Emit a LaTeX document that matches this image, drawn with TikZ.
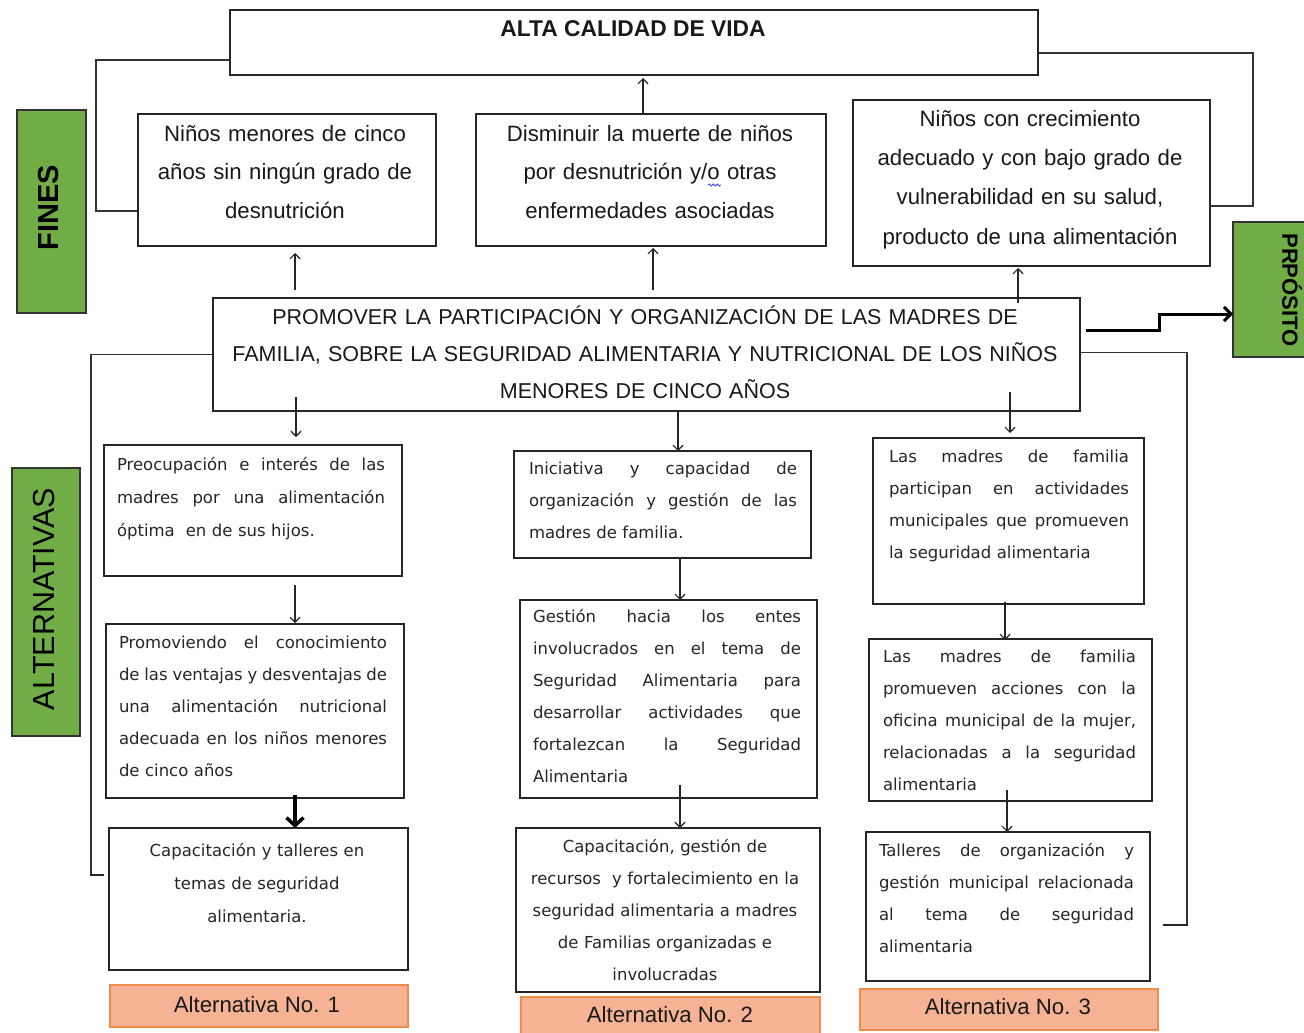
\documentclass[tikz,border=0pt]{standalone}
\usepackage{fontspec}
\setmainfont{Liberation Sans}
\newfontfamily\altf{DejaVu Sans}
\usetikzlibrary{arrows.meta,decorations.pathmorphing}
\definecolor{grn}{HTML}{70AD47}
\definecolor{salmon}{HTML}{F5B295}
\definecolor{orng}{HTML}{F08C4B}
\newcommand{\jl}[2]{\leavevmode\hbox to #1{\spaceskip=0pt\xspaceskip=0pt #2}}
\begin{document}
\begin{tikzpicture}[x=1pt,y=-1pt,
 box/.style={draw=black!85, line width=1.3pt, inner sep=0pt, outer sep=0pt, fill=white},
 gbox/.style={draw=black!80, line width=1.2pt, fill=grn, inner sep=0pt, outer sep=0pt},
 abox/.style={draw=orng, line width=1.2pt, fill=salmon, inner sep=0pt, outer sep=0pt},
 uptxt/.style={inner sep=0pt, anchor=north, align=center, font=\fontsize{22.2}{38.5}\selectfont, text=black!90},
 alttxt/.style={inner sep=0pt, anchor=north, align=left, font=\altf\fontsize{16.5}{32}\selectfont, text=black!85},
 lbltxt/.style={inner sep=0pt, anchor=base, font=\fontsize{22.2}{25}\selectfont, text=black!90},
 arr/.style={draw=black!85, line width=1.2pt, -{Straight Barb[length=5pt,width=10pt]}},
 conn/.style={draw=black!80, line width=1.3pt},
]
\fill[white] (0,0) rectangle (1304,1033);
\useasboundingbox (0,0) rectangle (1304,1033);

% ---------- top ----------
\node[box, minimum width=808pt, minimum height=65pt] (alta) at (634,42.5) {};
\node[inner sep=0pt, anchor=base, font=\bfseries\fontsize{22.8}{26}\selectfont, text=black!90] (altat) at (633,37) {ALTA CALIDAD DE VIDA};

\node[gbox, minimum width=69pt, minimum height=203pt] (fines) at (51.5,211.5) {};
\node[rotate=90, inner sep=0pt, font=\bfseries\fontsize{29}{30}\selectfont] (finest) at (49,208) {FINES};

\node[box, minimum width=298pt, minimum height=132pt] (f1) at (287,180) {};
\node[uptxt, text width=298pt] (f1t) at (285,114.05) {\strut Niños menores de cinco\\años sin ningún grado de\\desnutrición};

\node[box, minimum width=350pt, minimum height=132pt] (f2) at (651,180) {};
\node[uptxt, text width=350pt] (f2t) at (650,114.05) {\strut Disminuir la muerte de niños\\por desnutrición y/o otras\\enfermedades asociadas};
\draw[blue!75, line width=0.8pt, decorate, decoration={snake, amplitude=1pt, segment length=4pt}] (708,185) -- (721,185);

\node[box, minimum width=357pt, minimum height=166pt] (f3) at (1031.5,183) {};
\node[uptxt, text width=357pt, font=\fontsize{22.2}{39.3}\selectfont] (f3t) at (1030,98.5) {\strut Niños con crecimiento\\adecuado y con bajo grado de\\vulnerabilidad en su salud,\\producto de una alimentación};

\node[gbox, minimum width=117pt, minimum height=135pt] (prp) at (1291.5,289.5) {};
\node[rotate=-90, inner sep=0pt, font=\bfseries\fontsize{22}{24}\selectfont] (prpt) at (1292,290) {PRPÓSITO};

\node[box, minimum width=867pt, minimum height=113pt] (pp) at (646.5,354.5) {};
\node[uptxt, text width=867pt, font=\fontsize{21.5}{37}\selectfont] (ppt) at (645,298.1) {\strut PROMOVER LA PARTICIPACIÓN Y ORGANIZACIÓN DE LAS MADRES DE\\FAMILIA, SOBRE LA SEGURIDAD ALIMENTARIA Y NUTRICIONAL DE LOS NIÑOS\\MENORES DE CINCO AÑOS};

% ---------- alternatives ----------
\node[gbox, minimum width=68pt, minimum height=268pt] (alts) at (46,602) {};
\node[rotate=90, inner sep=0pt, font=\fontsize{30.5}{32}\selectfont] (altst) at (44,599) {ALTERNATIVAS};

\node[box, minimum width=298pt, minimum height=131pt] (a11) at (253,510.5) {};
\node[alttxt, text width=268pt, font=\altf\fontsize{16.5}{33}\selectfont] (a11t) at (251,446.9) {\strut\jl{268pt}{Preocupación e interés de las}\\ \jl{268pt}{madres por una alimentación}\\ óptima\ \ en de sus hijos.};

\node[box, minimum width=298pt, minimum height=174pt] (a12) at (255,711) {};
\node[alttxt, text width=268pt] (a12t) at (253,625.6) {\strut\jl{268pt}{Promoviendo el conocimiento}\\ \jl{268pt}{de las ventajas y desventajas de}\\ \jl{268pt}{una alimentación nutricional}\\ \jl{268pt}{adecuada en los niños menores}\\ de cinco años};

\node[box, minimum width=299pt, minimum height=142pt] (a13) at (258.5,899) {};
\node[alttxt, align=center, text width=299pt, font=\altf\fontsize{16.5}{33}\selectfont] (a13t) at (257,832.9) {\strut Capacitación y talleres en\\temas de seguridad\\alimentaria.};

\node[abox, minimum width=298pt, minimum height=42pt] (alt1) at (259,1006) {};
\node[lbltxt] (alt1t) at (257,1012) {Alternativa No. 1};

\node[box, minimum width=297pt, minimum height=107pt] (a21) at (662.5,504.5) {};
\node[alttxt, text width=268pt] (a21t) at (663,451.6) {\strut\jl{268pt}{Iniciativa y capacidad de}\\ \jl{268pt}{organización y gestión de las}\\ madres de familia.};

\node[box, minimum width=297pt, minimum height=198pt] (a22) at (668.5,699) {};
\node[alttxt, text width=268pt] (a22t) at (667,599.6) {\strut\jl{268pt}{Gestión hacia los entes}\\ \jl{268pt}{involucrados en el tema de}\\ \jl{268pt}{Seguridad Alimentaria para}\\ \jl{268pt}{desarrollar actividades que}\\ \jl{268pt}{fortalezcan la Seguridad}\\ Alimentaria};

\node[box, minimum width=304pt, minimum height=164pt] (a23) at (668,910) {};
\node[alttxt, align=center, text width=304pt] (a23t) at (665,829.6) {\strut Capacitación, gestión de\\recursos\ \ y fortalecimiento en la\\seguridad alimentaria a madres\\de Familias organizadas e\\involucradas};

\node[abox, minimum width=299pt, minimum height=48pt] (alt2) at (670.5,1021) {};
\node[lbltxt] (alt2t) at (670,1022) {Alternativa No. 2};

\node[box, minimum width=271pt, minimum height=166pt] (a31) at (1008.5,521) {};
\node[alttxt, text width=240pt] (a31t) at (1009,439.6) {\strut\jl{240pt}{Las madres de familia}\\ \jl{240pt}{participan en actividades}\\ \jl{240pt}{municipales que promueven}\\ la seguridad alimentaria};

\node[box, minimum width=283pt, minimum height=162pt] (a32) at (1010.5,720) {};
\node[alttxt, text width=253pt] (a32t) at (1009.5,639.6) {\strut\jl{253pt}{Las madres de familia}\\ \jl{253pt}{promueven acciones con la}\\ \jl{253pt}{oficina municipal de la mujer,}\\ \jl{253pt}{relacionadas a la seguridad}\\ alimentaria};

\node[box, minimum width=284pt, minimum height=149pt] (a33) at (1008,906.5) {};
\node[alttxt, text width=255pt] (a33t) at (1006.5,833.6) {\strut\jl{255pt}{Talleres de organización y}\\ \jl{255pt}{gestión municipal relacionada}\\ \jl{255pt}{al tema de seguridad}\\ alimentaria};

\node[abox, minimum width=298pt, minimum height=41pt] (alt3) at (1009,1009.5) {};
\node[lbltxt] (alt3t) at (1008,1014) {Alternativa No. 3};

% ---------- connectors ----------
\draw[conn] ([yshift=-17.5pt]alta.west) -| ([xshift=-42pt,yshift=-31pt]f1.west) -- ([yshift=-31pt]f1.west);
\draw[conn] ([yshift=-10.5pt]alta.east) -| ([xshift=43pt,yshift=-23pt]f3.east) -- ([yshift=-23pt]f3.east);

\coordinate (lstub) at ([xshift=-18pt,yshift=24pt]a13.west);
\coordinate (lend) at ([xshift=-5pt,yshift=24pt]a13.west);
\draw[conn] (pp.west) -| (lstub);
\draw[draw=black!85, line width=2.6pt] ([xshift=-1.3pt]lstub) -- (lend);

\coordinate (rstub) at ([xshift=37pt,yshift=-18.5pt]a33.east);
\coordinate (rend) at ([xshift=13pt,yshift=-18.5pt]a33.east);
\draw[conn] ([yshift=2pt]pp.east) -| (rstub);
\draw[draw=black!85, line width=2.6pt] ([xshift=1.3pt]rstub) -- (rend);

\draw[draw=black, line width=3pt, -{Straight Barb[length=7pt,width=14pt]}] ([xshift=6pt,yshift=24.5pt]pp.east) -- ++(73,0) -- ++(0,-16) -- ([yshift=-24.5pt]prp.west);

% ---------- arrows ----------
\draw[arr] ([xshift=-8pt,yshift=1pt]f2.north) -- ([xshift=9pt,yshift=-3pt]alta.south);
\draw[arr] ([xshift=-351.5pt,yshift=8pt]pp.north) -- ([xshift=8pt,yshift=-7pt]f1.south);
\draw[arr] ([xshift=6.5pt,yshift=8pt]pp.north) -- ([xshift=2pt,yshift=-2pt]f2.south);
\draw[arr] ([xshift=371.5pt,yshift=-5pt]pp.north) -- ([xshift=-13.5pt,yshift=-2pt]f3.south);

\draw[arr] ([xshift=-350.5pt,yshift=14pt]pp.south) -- ([xshift=43pt,yshift=8pt]a11.north);
\draw[arr] ([xshift=31.5pt]pp.south) -- ([xshift=15.5pt]a21.north);
\draw[arr] ([xshift=363.5pt,yshift=19pt]pp.south) -- ([xshift=1.5pt,yshift=5pt]a31.north);

\draw[arr] ([xshift=42pt,yshift=-9pt]a11.south) -- ([xshift=40pt,yshift=1pt]a12.north);
\draw[draw=black, line width=3.5pt, -{Straight Barb[length=8pt,width=17pt]}] ([xshift=40pt,yshift=3pt]a12.south) -- ([xshift=36.5pt]a13.north);
\draw[arr] ([xshift=17.5pt]a21.south) -- ([xshift=11.5pt]a22.north);
\draw[arr] ([xshift=11.5pt,yshift=13pt]a22.south) -- ([xshift=12pt]a23.north);
\draw[arr] ([xshift=-3.5pt,yshift=2pt]a31.south) -- ([xshift=-5.5pt,yshift=-1pt]a32.north);
\draw[arr] ([xshift=-3.5pt,yshift=11pt]a32.south) -- ([xshift=-1pt]a33.north);
\end{tikzpicture}
\end{document}
